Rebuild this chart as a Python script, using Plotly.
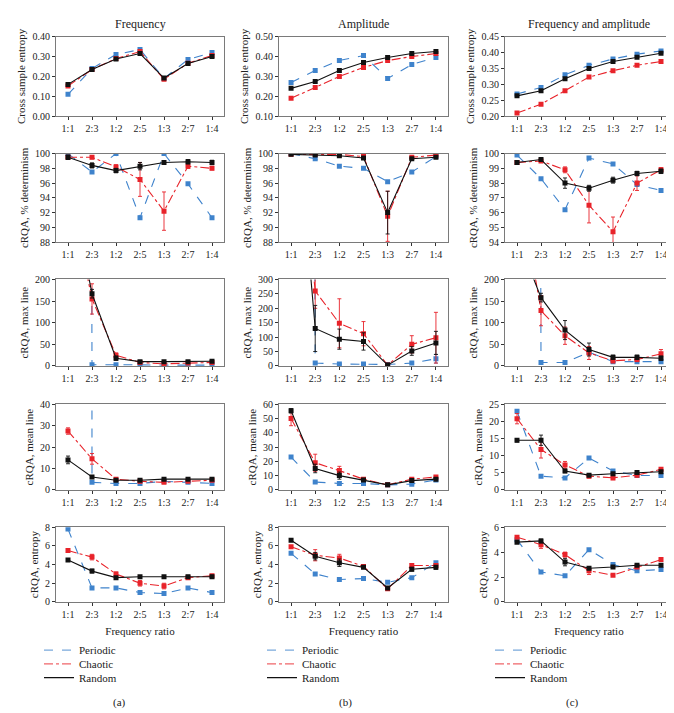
import plotly.graph_objects as go

# ---------------- data ----------------
ratios = ["1:1", "2:3", "1:2", "2:5", "1:3", "2:7", "1:4"]
series_names = ["Periodic", "Chaotic", "Random"]
col_titles = ["Frequency", "Amplitude", "Frequency and amplitude"]
row_titles = ["Cross sample entropy", "cRQA, % determinism", "cRQA, max line",
              "cRQA, mean line", "cRQA, entropy"]
panel_labels = ["(a)", "(b)", "(c)"]

# Row 1: cross sample entropy
cse_freq_periodic = [0.11, 0.24, 0.31, 0.335, 0.19, 0.285, 0.32]
cse_freq_chaotic = [0.152, 0.235, 0.29, 0.325, 0.186, 0.266, 0.305]
cse_freq_random = [0.16, 0.235, 0.288, 0.315, 0.192, 0.265, 0.30]
cse_amp_periodic = [0.27, 0.33, 0.38, 0.405, 0.29, 0.36, 0.395]
cse_amp_chaotic = [0.19, 0.245, 0.30, 0.345, 0.38, 0.40, 0.415]
cse_amp_random = [0.24, 0.275, 0.33, 0.37, 0.395, 0.415, 0.425]
cse_both_periodic = [0.27, 0.29, 0.33, 0.36, 0.38, 0.395, 0.405]
cse_both_chaotic = [0.21, 0.238, 0.28, 0.323, 0.343, 0.36, 0.372]
cse_both_random = [0.264, 0.28, 0.318, 0.35, 0.372, 0.385, 0.398]

# Row 2: cRQA % determinism
det_freq_periodic = [100, 97.5, 100, 91.3, 100, 95.9, 91.3]
det_freq_chaotic = [99.5, 99.5, 98.2, 96.5, 92.2, 98.3, 98.0]
det_freq_chaotic_err = [0.2, 0.2, 0.3, 2.3, 2.6, 0.3, 0.2]
det_freq_random = [99.5, 98.4, 97.7, 98.3, 98.8, 98.9, 98.8]
det_freq_random_err = [0.3, 0.35, 0.3, 0.5, 0.2, 0.3, 0.3]
det_amp_periodic = [100, 99.3, 98.3, 98.0, 96.2, 97.5, 99.6]
det_amp_chaotic = [99.9, 99.9, 99.9, 99.6, 91.5, 99.5, 99.8]
det_amp_chaotic_err = [0, 0, 0, 0, 3.4, 0, 0]
det_amp_random = [99.9, 99.8, 99.7, 99.4, 92.0, 99.3, 99.5]
det_amp_random_err = [0, 0, 0, 0, 2.9, 0, 0]
det_both_periodic = [99.9, 98.3, 96.2, 99.7, 99.3, 97.9, 97.5]
det_both_chaotic = [99.4, 99.5, 98.9, 96.5, 94.7, 98.0, 98.9]
det_both_chaotic_err = [0.1, 0.1, 0.2, 1.2, 1.0, 0.5, 0.15]
det_both_random = [99.4, 99.6, 98.0, 97.65, 98.2, 98.65, 98.8]
det_both_random_err = [0.1, 0.1, 0.35, 0.2, 0.2, 0.15, 0.15]

# Row 3: cRQA max line
max_freq_periodic = [20000, 3, 3, 2, 2, 2, 2]
max_freq_chaotic = [420, 155, 25, 8, 5, 7, 8]
max_freq_chaotic_err = [0, 35, 5, 2, 2, 2, 2]
max_freq_random = [450, 167, 18, 10, 10, 10, 11]
max_freq_random_err = [0, 10, 5, 2, 2, 2, 2]
max_amp_periodic = [20000, 10, 7, 7, 5, 10, 25]
max_amp_periodic_err = [0, 0, 0, 0, 0, 0, 15]
max_amp_chaotic = [1100, 260, 148, 112, 3, 75, 98]
max_amp_chaotic_err = [0, 60, 85, 42, 3, 30, 88]
max_amp_random = [1100, 130, 93, 85, 3, 52, 80]
max_amp_random_err = [0, 80, 35, 30, 3, 15, 40]
max_both_periodic = [20000, 8, 8, 32, 10, 10, 10]
max_both_chaotic = [450, 128, 70, 30, 12, 15, 28]
max_both_chaotic_err = [0, 35, 20, 15, 5, 5, 10]
max_both_random = [300, 158, 83, 38, 20, 20, 18]
max_both_random_err = [0, 10, 22, 15, 5, 5, 5]

# Row 4: cRQA mean line
mean_freq_periodic = [20000, 3.5, 3, 3, 4, 3.5, 3]
mean_freq_chaotic = [27.5, 14.5, 5, 4, 3.5, 4, 4.5]
mean_freq_chaotic_err = [1.5, 2.5, 0.5, 0.5, 0.5, 0.5, 0.5]
mean_freq_random = [14, 6, 4.5, 4.5, 5, 5, 5]
mean_freq_random_err = [1.8, 0.5, 0.5, 0.5, 0.5, 0.5, 0.5]
mean_amp_periodic = [23, 5.5, 4.5, 4.5, 3.5, 4, 7]
mean_amp_chaotic = [50, 19, 13.5, 7.5, 3.5, 7.5, 9]
mean_amp_chaotic_err = [5, 6, 3, 1, 0.5, 1, 1]
mean_amp_random = [55.5, 15, 10, 7, 3.5, 6.5, 7.5]
mean_amp_random_err = [1.5, 3, 2.5, 1, 0.5, 1, 1]
mean_both_periodic = [23, 4, 3.5, 9.3, 5.5, 4.2, 4.2]
mean_both_chaotic = [20.8, 11.8, 7.3, 4, 3.5, 4.3, 6]
mean_both_chaotic_err = [1.5, 2.5, 1, 0.5, 0.5, 0.5, 0.5]
mean_both_random = [14.5, 14.5, 5.5, 4.3, 4.7, 5.1, 5.3]
mean_both_random_err = [0.5, 1.5, 0.5, 0.3, 0.3, 0.3, 0.3]

# Row 5: cRQA entropy
ent_freq_periodic = [7.8, 1.5, 1.5, 1.0, 0.9, 1.5, 1.0]
ent_freq_chaotic = [5.5, 4.8, 3.0, 2.0, 1.7, 2.6, 2.8]
ent_freq_chaotic_err = [0.15, 0.3, 0.2, 0.3, 0.3, 0.15, 0.1]
ent_freq_random = [4.5, 3.3, 2.6, 2.7, 2.7, 2.7, 2.7]
ent_freq_random_err = [0.15, 0.2, 0.1, 0.1, 0.1, 0.15, 0.15]
ent_amp_periodic = [5.2, 3.0, 2.4, 2.5, 2.1, 2.6, 4.2]
ent_amp_chaotic = [5.9, 5.0, 4.7, 3.8, 1.4, 3.9, 3.9]
ent_amp_chaotic_err = [0.1, 0.6, 0.4, 0.1, 0.1, 0.2, 0.2]
ent_amp_random = [6.6, 4.9, 4.2, 3.7, 1.5, 3.5, 3.7]
ent_amp_random_err = [0.1, 0.4, 0.4, 0.1, 0.1, 0.2, 0.2]
ent_both_periodic = [5.0, 2.4, 2.1, 4.2, 3.0, 2.5, 2.6]
ent_both_chaotic = [5.2, 4.6, 3.8, 2.5, 2.15, 2.8, 3.4]
ent_both_chaotic_err = [0.1, 0.3, 0.2, 0.3, 0.1, 0.1, 0.15]
ent_both_random = [4.8, 4.9, 3.2, 2.7, 2.8, 2.95, 2.95]
ent_both_random_err = [0.1, 0.15, 0.3, 0.1, 0.1, 0.1, 0.1]

# y-axis ranges / tick steps per panel (row, col)
y_ranges = [
    [[0, 0.40], [0.10, 0.50], [0.20, 0.45]],
    [[88, 100], [88, 100], [94, 100]],
    [[0, 200], [0, 300], [0, 200]],
    [[0, 40], [0, 60], [0, 25]],
    [[0, 8], [0, 8], [0, 6]],
]
y_dticks = [
    [0.1, 0.1, 0.05],
    [2, 2, 1],
    [50, 50, 50],
    [10, 10, 5],
    [2, 2, 2],
]
y_formats = [".2f", "", "", "", ""]

# panel data: (periodic, periodic_err, chaotic, chaotic_err, random, random_err)
panels = [
    [
        (cse_freq_periodic, None, cse_freq_chaotic, None, cse_freq_random, None),
        (cse_amp_periodic, None, cse_amp_chaotic, None, cse_amp_random, None),
        (cse_both_periodic, None, cse_both_chaotic, None, cse_both_random, None),
    ],
    [
        (det_freq_periodic, None, det_freq_chaotic, det_freq_chaotic_err, det_freq_random, det_freq_random_err),
        (det_amp_periodic, None, det_amp_chaotic, det_amp_chaotic_err, det_amp_random, det_amp_random_err),
        (det_both_periodic, None, det_both_chaotic, det_both_chaotic_err, det_both_random, det_both_random_err),
    ],
    [
        (max_freq_periodic, None, max_freq_chaotic, max_freq_chaotic_err, max_freq_random, max_freq_random_err),
        (max_amp_periodic, max_amp_periodic_err, max_amp_chaotic, max_amp_chaotic_err, max_amp_random, max_amp_random_err),
        (max_both_periodic, None, max_both_chaotic, max_both_chaotic_err, max_both_random, max_both_random_err),
    ],
    [
        (mean_freq_periodic, None, mean_freq_chaotic, mean_freq_chaotic_err, mean_freq_random, mean_freq_random_err),
        (mean_amp_periodic, None, mean_amp_chaotic, mean_amp_chaotic_err, mean_amp_random, mean_amp_random_err),
        (mean_both_periodic, None, mean_both_chaotic, mean_both_chaotic_err, mean_both_random, mean_both_random_err),
    ],
    [
        (ent_freq_periodic, None, ent_freq_chaotic, ent_freq_chaotic_err, ent_freq_random, ent_freq_random_err),
        (ent_amp_periodic, None, ent_amp_chaotic, ent_amp_chaotic_err, ent_amp_random, ent_amp_random_err),
        (ent_both_periodic, None, ent_both_chaotic, ent_both_chaotic_err, ent_both_random, ent_both_random_err),
    ],
]

# ---------------- styling ----------------
W, H = 674, 713
FONT = "Liberation Serif, Times New Roman, serif"
BLUE = "#3f83cc"
RED = "#e8232a"
BLACK = "#111111"
styles = [
    dict(color=BLUE, dash="dash"),
    dict(color=RED, dash="dashdot"),
    dict(color=BLACK, dash="solid"),
]
col_px = [(48, 216), (271, 440), (497, 665)]
row_px = [(23, 104), (142, 232), (270, 358), (397, 484), (522, 598)]
legend_x_px = [31, 254, 482]
legend_y_px = [647, 661, 675]
label_x_px = [111, 337, 564]

def px_x(p):
    return p / W

def px_y(p):
    return 1 - p / H

fig = go.Figure()
layout = {}

for r in range(5):
    for c in range(3):
        idx = r * 3 + c + 1
        xa = "x" if idx == 1 else f"x{idx}"
        ya = "y" if idx == 1 else f"y{idx}"
        p = panels[r][c]
        vals = [p[0], p[2], p[4]]
        errs = [p[1], p[3], p[5]]
        for s in range(3):
            st = styles[s]
            kw = {}
            if errs[s] is not None:
                kw["error_y"] = dict(type="data", array=errs[s], visible=True,
                                     color=st["color"], thickness=0.9, width=2)
            fig.add_trace(go.Scatter(
                x=ratios, y=vals[s], mode="lines+markers",
                line=dict(color=st["color"], dash=st["dash"], width=1.1),
                marker=dict(symbol="square", size=5, color=st["color"]),
                xaxis=xa, yaxis=ya, showlegend=False, name=series_names[s],
                **kw))
        x0, x1 = col_px[c]
        y0, y1 = row_px[r]
        xkey = "xaxis" if idx == 1 else f"xaxis{idx}"
        ykey = "yaxis" if idx == 1 else f"yaxis{idx}"
        xdict = dict(
            domain=[px_x(x0), px_x(x1)], anchor=ya,
            type="category", categoryorder="array", categoryarray=ratios,
            range=[-0.5, 6.5], showgrid=False, zeroline=False,
            showline=True, mirror=True, linecolor="#7a7a7a", linewidth=1,
            ticks="outside", ticklen=3, tickcolor="#333",
            tickfont=dict(family=FONT, size=10, color="#222"),
        )
        if r == 4:
            xdict["title"] = dict(text="Frequency ratio", standoff=8,
                                  font=dict(family=FONT, size=11, color="#222"))
        layout[xkey] = xdict
        ydict = dict(
            domain=[px_y(y1), px_y(y0)], anchor=xa,
            range=y_ranges[r][c], dtick=y_dticks[r][c], tick0=y_ranges[r][c][0],
            showgrid=False, zeroline=False,
            showline=True, mirror=True, linecolor="#7a7a7a", linewidth=1,
            ticks="outside", ticklen=3, tickcolor="#333",
            tickfont=dict(family=FONT, size=10, color="#222"),
            title=dict(text=row_titles[r], standoff=4,
                       font=dict(family=FONT, size=11, color="#222")),
        )
        if y_formats[r]:
            ydict["tickformat"] = y_formats[r]
        layout[ykey] = ydict

# legend entries (line samples only): one small legend per entry per column
for c in range(3):
    xa = "x" if c == 0 else f"x{c + 1}"
    ya = "y" if c == 0 else f"y{c + 1}"
    for s in range(3):
        n = c * 3 + s + 1
        lkey = "legend" if n == 1 else f"legend{n}"
        st = styles[s]
        fig.add_trace(go.Scatter(
            x=[None], y=[None], mode="lines", name=series_names[s],
            line=dict(color=st["color"], dash=st["dash"], width=1.1),
            opacity=0.7 if s < 2 else 1.0,
            xaxis=xa, yaxis=ya, legend=lkey, showlegend=True))
        layout[lkey] = dict(
            x=px_x(legend_x_px[c]), y=px_y(legend_y_px[s]),
            xanchor="left", yanchor="middle",
            font=dict(family=FONT, size=11, color="#222"),
            bgcolor="rgba(0,0,0,0)", itemwidth=30,
        )

annotations = []
for c in range(3):
    cx = (col_px[c][0] + col_px[c][1]) / 2
    annotations.append(dict(
        text=col_titles[c], x=px_x(cx), y=px_y(10), xref="paper", yref="paper",
        showarrow=False, xanchor="center", yanchor="middle",
        font=dict(family=FONT, size=12, color="#222")))
    annotations.append(dict(
        text=panel_labels[c], x=px_x(label_x_px[c]), y=px_y(700),
        xref="paper", yref="paper",
        showarrow=False, xanchor="center", yanchor="middle",
        font=dict(family=FONT, size=11, color="#222")))

fig.update_layout(
    width=W, height=H, margin=dict(l=0, r=0, t=0, b=0),
    paper_bgcolor="white", plot_bgcolor="white",
    annotations=annotations, **layout,
)

fig.write_html("out.html")
